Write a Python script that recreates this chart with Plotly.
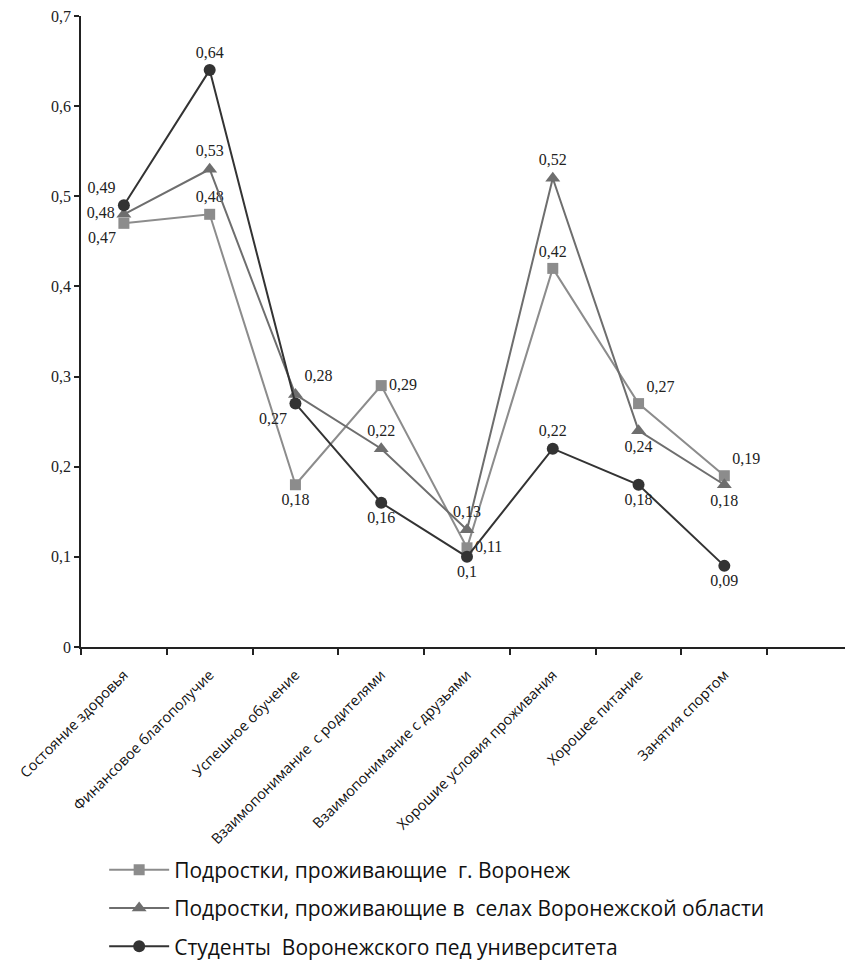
import plotly.graph_objects as go

categories = [
    "Состояние здоровья",
    "Финансовое благополучие",
    "Успешное обучение",
    "Взаимопонимание  с родителями",
    "Взаимопонимание с друзьями",
    "Хорошие условия проживания",
    "Хорошее питание",
    "Занятия спортом",
]
series_names = [
    "Подростки, проживающие  г. Воронеж",
    "Подростки, проживающие в  селах Воронежской области",
    "Студенты  Воронежского пед университета",
]
voronezh = [0.47, 0.48, 0.18, 0.29, 0.11, 0.42, 0.27, 0.19]
villages = [0.48, 0.53, 0.28, 0.22, 0.13, 0.52, 0.24, 0.18]
students = [0.49, 0.64, 0.27, 0.16, 0.10, 0.22, 0.18, 0.09]
y_ticks = [0, 0.1, 0.2, 0.3, 0.4, 0.5, 0.6, 0.7]

xpos = list(range(len(categories)))

def fmt(v):
    return ("%g" % v).replace(".", ",")

pos1 = ["bottom left", "top center", "bottom center", "middle right", "middle right",
        "top center", "top right", "top right"]
pos2 = ["middle left", "top center", "top right", "top center", "top center",
        "top center", "bottom center", "bottom center"]
pos3 = ["top left", "top center", "bottom left", "bottom center", "bottom center",
        "top center", "bottom center", "bottom center"]

label_font = dict(family="Liberation Serif", size=16, color="#222222")

fig = go.Figure()
fig.add_trace(go.Scatter(
    x=xpos, y=voronezh, name=series_names[0], mode="lines+markers+text",
    legendgroup="a",
    text=[fmt(v) for v in voronezh], textposition=pos1, textfont=label_font,
    line=dict(color="#8c8c8c", width=2),
    marker=dict(symbol="square", size=11, color="#8c8c8c"),
))
fig.add_trace(go.Scatter(
    x=xpos, y=villages, name=series_names[1], mode="lines+markers+text",
    legendgroup="b",
    text=[fmt(v) for v in villages], textposition=pos2, textfont=label_font,
    line=dict(color="#6e6e6e", width=2),
    marker=dict(symbol="triangle-up", size=13, color="#6e6e6e"),
))
fig.add_trace(go.Scatter(
    x=xpos, y=students, name=series_names[2], mode="lines+markers+text",
    legendgroup="c",
    text=[fmt(v) for v in students], textposition=pos3, textfont=label_font,
    line=dict(color="#333333", width=2),
    marker=dict(symbol="circle", size=12, color="#333333"),
))

fig.update_layout(
    width=845, height=957,
    margin=dict(l=73, r=0, t=8, b=318, autoexpand=False),
    plot_bgcolor="white", paper_bgcolor="white",
    separators=", ",
    showlegend=True,
    legend=dict(
        x=0.03, y=-0.321, xanchor="left", yanchor="top",
        font=dict(family="Open Sans", size=21, color="#111111"),
        tracegroupgap=8, itemwidth=60,
        bgcolor="rgba(0,0,0,0)",
    ),
    xaxis=dict(
        range=[-0.5, 8.5], tickmode="array", tickvals=xpos, ticktext=categories,
        tickangle=-45, ticks="", showgrid=False, zeroline=False, automargin=False,
        ticklabeloverflow="allow", ticklabelstandoff=12,
        showline=True, linecolor="#222222", linewidth=1.5,
        tickfont=dict(family="Open Sans", size=14.5, color="#111111"),
        minor=dict(tickmode="linear", tick0=-0.5, dtick=1, ticks="outside",
                   ticklen=6, tickcolor="#222222", tickwidth=1.5, showgrid=False),
    ),
    yaxis=dict(
        range=[0, 0.7], tickmode="array", tickvals=y_ticks,
        ticktext=[fmt(v) for v in y_ticks], automargin=False,
        ticklabeloverflow="allow",
        ticks="outside", ticklen=5, tickcolor="#222222", tickwidth=1.5,
        showgrid=False, zeroline=False, showline=True, linecolor="#222222", linewidth=1.5,
        tickfont=dict(family="Liberation Serif", size=16, color="#222222"),
    ),
)

fig.write_html("out.html")
